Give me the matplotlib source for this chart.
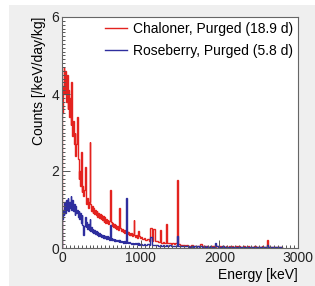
import matplotlib
matplotlib.use("Agg")
import matplotlib.pyplot as plt
from matplotlib.patches import Rectangle
from matplotlib.ticker import MultipleLocator
import numpy as np

# 10 keV bins up to 1000 keV, 20 keV bins from 1000 to 2800 keV
bin_edges = np.concatenate([np.arange(0, 1000, 10), np.arange(1000, 2820, 20)])

chaloner = [
    3.5, 4.2, 4.7, 4.0, 4.6, 3.8, 4.5, 3.6, 4.1, 3.4,
    3.9, 3.2, 3.6, 2.9, 3.3, 2.7, 3.0, 2.4, 2.7, 2.1,
    2.3, 1.8, 2.0, 1.6, 1.75, 1.45, 1.6, 1.35, 1.5, 1.25,
    1.35, 1.15, 1.3, 1.05, 1.2, 1.0, 1.15, 0.95, 1.1, 0.92,
    1.05, 0.88, 1.0, 0.85, 0.95, 0.8, 0.92, 0.78, 0.88, 0.75,
    0.85, 0.72, 0.82, 0.68, 0.8, 0.66, 0.76, 0.64, 0.74, 0.62,
    0.7, 0.6, 0.68, 0.56, 0.66, 0.54, 0.62, 0.52, 0.6, 0.5,
    0.58, 0.48, 0.55, 0.46, 0.53, 0.44, 0.5, 0.42, 0.48, 0.4,
    0.46, 0.38, 0.44, 0.36, 0.42, 0.34, 0.4, 0.33, 0.38, 0.31,
    0.36, 0.3, 0.34, 0.28, 0.33, 0.27, 0.31, 0.26, 0.3, 0.25,
    # 20 keV bins
    0.28, 0.23, 0.26, 0.21, 0.24, 0.19, 0.22, 0.18, 0.2, 0.17,
    0.19, 0.15, 0.17, 0.14, 0.16, 0.13, 0.15, 0.12, 0.14, 0.11,
    0.13, 0.1, 0.12, 0.09, 0.11, 0.08, 0.07, 0.08, 0.06, 0.07,
    0.06, 0.05, 0.07, 0.05, 0.06, 0.04, 0.06, 0.05, 0.04, 0.05,
    0.05, 0.04, 0.05, 0.03, 0.05, 0.04, 0.04, 0.03, 0.05, 0.04,
    0.04, 0.03, 0.05, 0.03, 0.04, 0.03, 0.04, 0.03, 0.04, 0.03,
    0.04, 0.02, 0.04, 0.03, 0.03, 0.04, 0.02, 0.03, 0.04, 0.03,
    0.03, 0.02, 0.04, 0.02, 0.03, 0.03, 0.02, 0.04, 0.02, 0.03,
    0.03, 0.02, 0.03, 0.02, 0.03, 0.02, 0.03, 0.02, 0.02, 0.03,
]
roseberry = [
    0.75, 1.0, 0.85, 1.2, 0.9, 1.25, 1.0, 1.3, 0.95, 1.2,
    1.05, 1.35, 1.0, 1.25, 0.95, 1.15, 0.85, 1.1, 0.9, 1.0,
    0.8, 0.95, 0.75, 0.9, 0.65, 0.85, 0.6, 0.35, 0.58, 0.7,
    0.55, 0.68, 0.5, 0.62, 0.48, 0.58, 0.44, 0.55, 0.42, 0.5,
    0.4, 0.48, 0.36, 0.45, 0.34, 0.42, 0.32, 0.4, 0.3, 0.37,
    0.29, 0.35, 0.27, 0.33, 0.25, 0.31, 0.24, 0.3, 0.23, 0.28,
    0.22, 0.27, 0.21, 0.25, 0.2, 0.24, 0.19, 0.23, 0.18, 0.22,
    0.17, 0.21, 0.16, 0.2, 0.15, 0.19, 0.15, 0.18, 0.14, 0.17,
    0.14, 0.17, 0.13, 0.16, 0.12, 0.15, 0.12, 0.14, 0.11, 0.14,
    0.11, 0.13, 0.1, 0.13, 0.1, 0.12, 0.09, 0.12, 0.09, 0.11,
    # 20 keV bins
    0.1, 0.08, 0.11, 0.08, 0.1, 0.07, 0.09, 0.07, 0.09, 0.07,
    0.08, 0.06, 0.08, 0.06, 0.07, 0.06, 0.07, 0.05, 0.07, 0.05,
    0.06, 0.05, 0.06, 0.04, 0.06, 0.04, 0.05, 0.04, 0.05, 0.04,
    0.04, 0.03, 0.05, 0.03, 0.04, 0.03, 0.04, 0.03, 0.04, 0.03,
    0.04, 0.03, 0.04, 0.02, 0.04, 0.03, 0.03, 0.02, 0.04, 0.03,
    0.03, 0.02, 0.04, 0.02, 0.03, 0.02, 0.03, 0.02, 0.03, 0.02,
    0.03, 0.02, 0.03, 0.02, 0.03, 0.02, 0.02, 0.03, 0.02, 0.02,
    0.02, 0.03, 0.02, 0.02, 0.03, 0.02, 0.02, 0.02, 0.03, 0.02,
    0.02, 0.02, 0.03, 0.02, 0.02, 0.02, 0.02, 0.03, 0.02, 0.02,
]

# gamma lines on top of the continuum: (energy keV, counts)
chaloner_lines = [(120, 4.3), (190, 3.4), (240, 2.5), (295, 2.1), (350, 2.75),
                  (610, 1.5), (730, 1.05), (910, 0.73), (970, 0.45), (1120, 0.52),
                  (1170, 0.5), (1240, 0.47), (1330, 0.62), (1460, 1.77), (1770, 0.1),
                  (2615, 0.2)]
roseberry_lines = [(295, 0.8), (350, 0.75), (610, 0.6), (810, 1.3), (1120, 0.28),
                   (1460, 0.3), (1940, 0.12), (2615, 0.08)]

labels = ["Chaloner, Purged (18.9 d)", "Roseberry, Purged (5.8 d)"]
colors = ["#e3231f", "#2e2e9e"]


def with_lines(cont, lines):
    vals = np.array(cont, dtype=float)
    for e, h in lines:
        i = np.searchsorted(bin_edges, e, side="right") - 1
        vals[i] = max(vals[i], h)
    return vals


plt.rcParams["font.family"] = ["Liberation Sans", "DejaVu Sans"]

fig = plt.figure(figsize=(3.15, 2.86), dpi=100, facecolor="white")
fig.patches.append(Rectangle((9 / 315, 0), 1, 1 - 5 / 286, transform=fig.transFigure,
                             facecolor="#efefef", edgecolor="none", zorder=-10))
ax = fig.add_axes([62 / 315, 38 / 286, 236 / 315, 231 / 286])
ax.set_zorder(1)

for cont, lines, lab, c in zip([chaloner, roseberry], [chaloner_lines, roseberry_lines],
                               labels, colors):
    ax.stairs(with_lines(cont, lines), bin_edges, baseline=0, color=c, lw=1.0, label=lab)

ax.set_xlim(0, 3000)
ax.set_ylim(0, 6)
ax.xaxis.set_major_locator(MultipleLocator(1000))
ax.xaxis.set_minor_locator(MultipleLocator(50))
ax.yaxis.set_major_locator(MultipleLocator(2))
ax.yaxis.set_minor_locator(MultipleLocator(0.1))
ax.tick_params(which="both", direction="in", colors="#555555", labelcolor="#222222",
               labelsize=10, width=0.7)
ax.tick_params(which="major", length=6, pad=2)
ax.tick_params(which="minor", length=2.5)
for s in ax.spines.values():
    s.set_color("#666666")
    s.set_linewidth(0.8)

ax.set_xlabel("Energy [keV]", fontsize=10, loc="right", labelpad=2)
ax.set_ylabel("Counts [/keV/day/kg]", fontsize=10, loc="top", labelpad=4)

ax.legend(loc="upper right", frameon=False, fontsize=10, handlelength=1.6,
          handletextpad=0.4, labelspacing=0.6, borderaxespad=0.05, borderpad=0.3)

fig.savefig("out.png", dpi=100)
